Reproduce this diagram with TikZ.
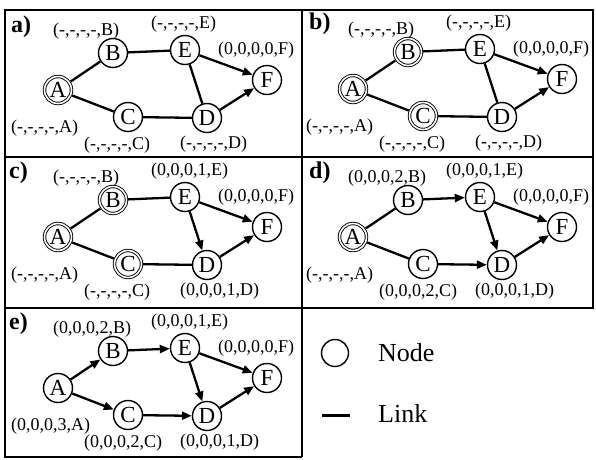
\documentclass[tikz,border=0pt]{standalone}
\usepackage{fontspec}
\setmainfont{Liberation Serif}
\usetikzlibrary{arrows.meta}
\newcommand\gnodes[3]{%
  \node[#1] (A) at (53,80) {A};
  \node[#2] (B) at (108,43) {B};
  \node[nd] (E) at (180,40) {E};
  \node[nd] (F) at (262,70) {F};
  \node[#3] (C) at (123,107) {C};
  \node[nd] (D) at (202,108) {D};}
\newcommand\glabels[6]{%
  \node[lbl] (lA) at (6,118) {#1};
  \node[lbl] (lB) at (48,21) {#2};
  \node[lbl] (lC) at (79,135) {#3};
  \node[lbl] (lD) at (175,134) {#4};
  \node[lbl] (lE) at (146,14) {#5};
  \node[lbl] (lF) at (213,40) {#6};}
\newcommand\gedges[7]{%
  \draw[#1] (A) -- (B);
  \draw[#2] (A) -- (C);
  \draw[#3] (B) -- (E);
  \draw[#4] (C) -- (D);
  \draw[#5] (E) -- (D);
  \draw[#6] (E) -- (F);
  \draw[#7] (D) -- (F);}
\begin{document}
\begin{tikzpicture}[x=1pt,y=-1pt,
  nd/.style={circle,draw,line width=1.4pt,minimum size=29pt,inner sep=0pt,font=\fontsize{23}{23}\selectfont},
  dn/.style={circle,draw,double,double distance=1.6pt,line width=0.9pt,minimum size=27pt,inner sep=0pt,outer sep=1.7pt,font=\fontsize{23}{23}\selectfont},
  lnk/.style={line width=2.3pt},
  arr/.style={line width=2.3pt,-{Triangle[length=10pt,width=8pt]}},
  lbl/.style={anchor=west,inner sep=0pt,font=\fontsize{18}{18}\selectfont},
  pl/.style={anchor=west,inner sep=0pt,font=\bfseries\fontsize{24}{24}\selectfont},
  frame/.style={line width=1.6pt}]
\useasboundingbox (0,0) rectangle (596,459);
% frames
\draw[frame] (5,10) rectangle (593,308);
\draw[frame] (302,10) -- (302,457);
\draw[frame] (5,157) -- (593,157);
\draw[frame] (5,308) -- (5,457) -- (302,457);
% panel a
\begin{scope}[shift={(5,10)},name prefix=a-]
  \node[pl] (t) at (6,17) {a)};
  \gnodes{dn}{nd}{nd}
  \glabels{(-,-,-,-,A)}{(-,-,-,-,B)}{(-,-,-,-,C)}{(-,-,-,-,D)}{(-,-,-,-,E)}{(0,0,0,0,F)}
  \gedges{lnk}{lnk}{lnk}{lnk}{lnk}{arr}{arr}
\end{scope}
% panel b
\begin{scope}[shift={(300,9)},name prefix=b-]
  \node[pl] (t) at (9,15) {b)};
  \gnodes{dn}{dn}{dn}
  \glabels{(-,-,-,-,A)}{(-,-,-,-,B)}{(-,-,-,-,C)}{(-,-,-,-,D)}{(-,-,-,-,E)}{(0,0,0,0,F)}
  \gedges{lnk}{lnk}{lnk}{lnk}{lnk}{arr}{arr}
\end{scope}
% panel c
\begin{scope}[shift={(5,157)},name prefix=c-]
  \node[pl] (t) at (4,16) {c)};
  \gnodes{dn}{dn}{dn}
  \glabels{(-,-,-,-,A)}{(-,-,-,-,B)}{(-,-,-,-,C)}{(0,0,0,1,D)}{(0,0,0,1,E)}{(0,0,0,0,F)}
  \gedges{lnk}{lnk}{lnk}{lnk}{arr}{arr}{arr}
\end{scope}
% panel d
\begin{scope}[shift={(300,157)},name prefix=d-]
  \node[pl] (t) at (9,16) {d)};
  \gnodes{dn}{nd}{nd}
  \glabels{(-,-,-,-,A)}{(0,0,0,2,B)}{(0,0,0,2,C)}{(0,0,0,1,D)}{(0,0,0,1,E)}{(0,0,0,0,F)}
  \gedges{lnk}{lnk}{arr}{arr}{arr}{arr}{arr}
\end{scope}
% panel e
\begin{scope}[shift={(5,308)},name prefix=e-]
  \node[pl] (t) at (4,16) {e)};
  \gnodes{nd}{nd}{nd}
  \glabels{(0,0,0,3,A)}{(0,0,0,2,B)}{(0,0,0,2,C)}{(0,0,0,1,D)}{(0,0,0,1,E)}{(0,0,0,0,F)}
  \gedges{arr}{arr}{arr}{arr}{arr}{arr}{arr}
\end{scope}
% legend
\node[circle,draw,line width=1.4pt,minimum size=27pt] (legN) at (335,353) {};
\node[anchor=west,inner sep=0pt,font=\fontsize{26}{26}\selectfont] (legNt) at (378,353) {Node};
\coordinate (legL1) at (322,415);
\coordinate (legL2) at (350,415);
\draw[line width=3pt] (legL1) -- (legL2);
\node[anchor=west,inner sep=0pt,font=\fontsize{26}{26}\selectfont] (legLt) at (378,413) {Link};
\end{tikzpicture}
\end{document}
